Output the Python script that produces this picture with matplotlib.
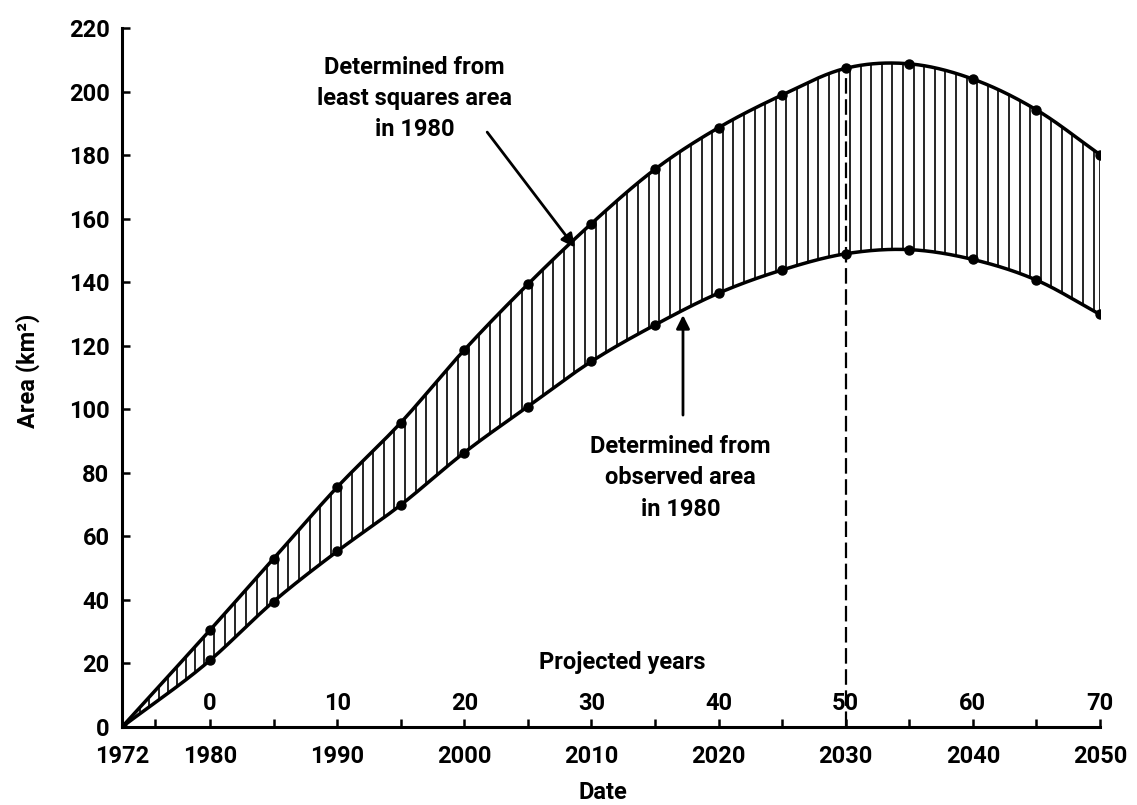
import numpy as np
import matplotlib.pyplot as plt

plt.rcParams['font.family'] = ['Roboto', 'DejaVu Sans']
plt.rcParams['font.weight'] = 'bold'
plt.rcParams['axes.labelweight'] = 'bold'

# projected lake area, km^2
years = [1972, 1980, 1985, 1990, 1995, 2000, 2005, 2010, 2015,
         2020, 2025, 2030, 2035, 2040, 2045, 2050]
upper = [0, 30.5, 53, 75.5, 95.8, 118.7, 139.4, 158.5, 175.6,
         188.7, 199, 207.4, 208.8, 204, 194.3, 180.2]
lower = [0, 21, 39.5, 55.3, 69.9, 86.4, 100.9, 115.1, 126.6,
         136.6, 143.9, 149, 150.3, 147.2, 140.7, 129.9]

date_ticks = [1972, 1980, 1990, 2000, 2010, 2020, 2030, 2040, 2050]
date_minor = [1975, 1985, 1995, 2005, 2015, 2025, 2035, 2045]
proj_at = [1980, 1990, 2000, 2010, 2020, 2030, 2040, 2050]
proj_years = [0, 10, 20, 30, 40, 50, 60, 70]
area_ticks = list(range(0, 221, 20))

# the axis is squeezed a bit before 1980
K = 0.865


def fwd(x):
    x = np.asarray(x, dtype=float)
    return np.where(x < 1980, 1980 - (1980 - x) * K, x)


def inv(t):
    t = np.asarray(t, dtype=float)
    return np.where(t < 1980, 1980 - (1980 - t) / K, t)


def smooth(x, y, xs):
    # cubic hermite curve through the points, worked out on the drawn scale
    x = fwd(x)
    xs = fwd(xs)
    y = np.asarray(y, float)
    m = np.gradient(y, x)
    i = np.clip(np.searchsorted(x, xs) - 1, 0, len(x) - 2)
    h = x[i + 1] - x[i]
    t = (xs - x[i]) / h
    h00 = 2 * t**3 - 3 * t**2 + 1
    h10 = t**3 - 2 * t**2 + t
    h01 = -2 * t**3 + 3 * t**2
    h11 = t**3 - t**2
    return h00 * y[i] + h10 * h * m[i] + h01 * y[i + 1] + h11 * h * m[i + 1]


fig = plt.figure(figsize=(11.37, 8.05), dpi=100)
ax = fig.add_axes([0.1073, 0.0969, 0.8602, 0.868])
ax.set_xscale('function', functions=(fwd, inv))
ax.set_xlim(1972, 2050)
ax.set_ylim(0, 220)

xs = np.linspace(1972, 2050, 800)
up_s = smooth(years, upper, xs)
lo_s = smooth(years, lower, xs)

# vertical hatching between the two curves
hx = np.append(np.arange(1972, 2050, 5 / 6), 2050)
ax.vlines(hx, smooth(years, lower, hx), smooth(years, upper, hx),
          color='k', lw=1.2)

ax.plot(xs, up_s, color='k', lw=2.5)
ax.plot(xs, lo_s, color='k', lw=2.5)
ax.plot(years, upper, 'o', color='k', ms=6.5)
ax.plot(years, lower, 'o', color='k', ms=6.5)

# 50 projected years
ax.vlines(2030, 0, upper[years.index(2030)], color='k', lw=1.6,
          linestyles=(0, (7, 2.5)))

for s in ['top', 'right']:
    ax.spines[s].set_visible(False)
for s in ['left', 'bottom']:
    ax.spines[s].set_linewidth(2.2)

ax.set_xticks(date_ticks)
ax.set_xticklabels([str(d) for d in date_ticks])
ax.set_xticks(date_minor, minor=True)
ax.set_yticks(area_ticks)
ax.tick_params(direction='in', length=6, width=1.8, labelsize=17)
ax.tick_params(axis='x', which='both', direction='in', length=6, width=1.8, pad=13)
ax.tick_params(axis='y', pad=9)

for yr, p in zip(proj_at, proj_years):
    ax.text(yr, 0.034, str(p), transform=ax.get_xaxis_transform(),
            ha='center', va='center', fontsize=17)
ax.text(2012.4, 0.092, 'Projected years', transform=ax.get_xaxis_transform(),
        ha='center', va='center', fontsize=17)

ax.set_xlabel('Date', fontsize=17)
ax.xaxis.set_label_coords(0.492, -0.077)
ax.set_ylabel('Area (km²)', fontsize=17)
ax.yaxis.set_label_coords(-0.084, 0.51)

ax.text(1996.1, 198, 'Determined from\nleast squares area\nin 1980',
        ha='center', va='center', fontsize=17, linespacing=1.45)
ax.annotate('', xy=(2008.7, 151), xytext=(2001.8, 187.3),
            arrowprops=dict(arrowstyle='-|>', color='k', lw=2,
                            mutation_scale=20, shrinkA=0, shrinkB=0))

ax.text(2017.0, 78.4, 'Determined from\nobserved area\nin 1980',
        ha='center', va='center', fontsize=17, linespacing=1.45)
ax.annotate('', xy=(2017.2, 129.7), xytext=(2017.2, 98.2),
            arrowprops=dict(arrowstyle='-|>', color='k', lw=2,
                            mutation_scale=20, shrinkA=0, shrinkB=0))

fig.savefig('out.png', dpi=100)
